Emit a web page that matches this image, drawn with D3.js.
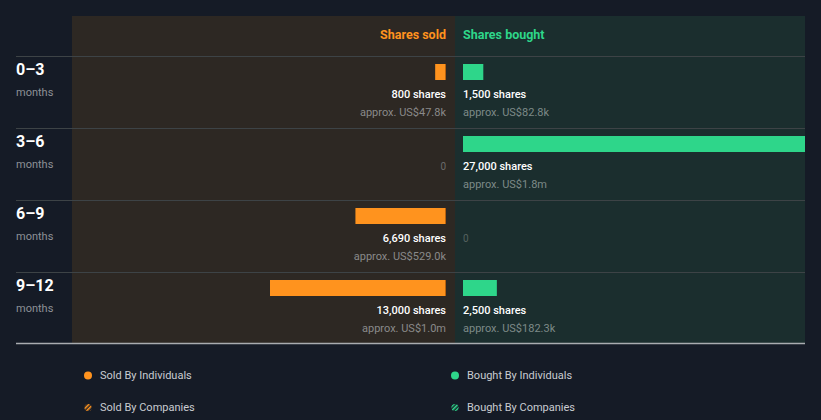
<!DOCTYPE html>
<html><head><meta charset="utf-8">
<script src="https://cdn.jsdelivr.net/npm/d3@7"></script>
<style>
html,body{margin:0;padding:0;background:#151b26;}
svg{display:block;font-family:Roboto,"Open Sans",sans-serif;}
</style></head>
<body><svg id="c" width="821" height="420"></svg>
<script>
const periods = ["0–3", "3–6", "6–9", "9–12"];
const periodUnit = "months";
const soldShares = [800, 0, 6690, 13000];
const soldValue = ["US$47.8k", null, "US$529.0k", "US$1.0m"];
const boughtShares = [1500, 27000, 0, 2500];
const boughtValue = ["US$82.8k", "US$1.8m", null, "US$182.3k"];
const legendItems = [
  {label: "Sold By Individuals", side: "sold", type: "solid"},
  {label: "Bought By Individuals", side: "bought", type: "solid"},
  {label: "Sold By Companies", side: "sold", type: "hatch"},
  {label: "Bought By Companies", side: "bought", type: "hatch"}
];

(function(){
const W = 821, H = 420;
const orange = "#ff931e", green = "#2ed68a";
const svg = d3.select("#c");
const defs = svg.append("defs");

const midX = 455, leftX = 72, rightX = 805, topY = 16, headerH = 40, rowH = 72;
const gap = 9;
const x = d3.scaleLinear().domain([0, 13000]).range([0, 176]);
const y = d3.scaleBand().domain(periods).range([topY + headerH, topY + headerH + rowH * periods.length]);

defs.append("clipPath").attr("id", "clipR").append("rect")
  .attr("x", midX).attr("y", topY).attr("width", rightX - midX).attr("height", H);
defs.append("clipPath").attr("id", "clipL").append("rect")
  .attr("x", leftX).attr("y", topY).attr("width", midX - leftX).attr("height", H);

const panelBottom = y.range()[1];
svg.append("rect").attr("x", leftX).attr("y", topY).attr("width", midX - leftX).attr("height", panelBottom - topY).attr("fill", "#2d2823");
svg.append("rect").attr("x", midX).attr("y", topY).attr("width", rightX - midX).attr("height", panelBottom - topY).attr("fill", "#1b2e2e");

svg.append("text").attr("x", midX - gap).attr("y", topY + 20).attr("text-anchor", "end")
  .attr("fill", orange).attr("font-size", 12.5).attr("font-weight", 700).attr("dominant-baseline", "middle").text("Shares sold");
svg.append("text").attr("x", midX + gap - 1).attr("y", topY + 20).attr("text-anchor", "start")
  .attr("fill", green).attr("font-size", 12.5).attr("font-weight", 700).attr("dominant-baseline", "middle").text("Shares bought");

periods.forEach((p) => {
  svg.append("line").attr("x1", 16).attr("x2", rightX).attr("y1", y(p) + 0.5).attr("y2", y(p) + 0.5)
    .attr("stroke", "#3d4346").attr("stroke-width", 1);
});
svg.append("line").attr("x1", 16).attr("x2", rightX).attr("y1", panelBottom - 0.5).attr("y2", panelBottom - 0.5)
  .attr("stroke", "#a9acb0").attr("stroke-width", 1.5);

const fmt = d3.format(",");
const rows = svg.selectAll("g.row").data(periods).join("g").attr("class", "row");

rows.append("text").attr("x", 16).attr("y", p => y(p) + 15).attr("fill", "#ffffff")
  .attr("font-size", 16).attr("font-weight", 700).attr("dominant-baseline", "middle").text(p => p);
rows.append("text").attr("x", 16).attr("y", p => y(p) + 37).attr("fill", "#8d9197")
  .attr("font-size", 11).attr("dominant-baseline", "middle").text(periodUnit);

rows.each(function(p, i) {
  const g = d3.select(this);
  const ry = y(p);
  const s = soldShares[i];
  if (s > 0) {
    const w = x(s);
    g.append("rect").attr("clip-path", "url(#clipL)").attr("x", midX - gap - w).attr("y", ry + 8).attr("width", w).attr("height", 16).attr("fill", orange);
    g.append("rect").attr("x", midX - gap - 1).attr("y", ry + 8).attr("width", 1).attr("height", 16).attr("fill", "#b8620e");
    g.append("text").attr("x", midX - gap).attr("y", ry + 39).attr("text-anchor", "end").attr("dominant-baseline", "middle")
      .attr("fill", "#ffffff").attr("font-size", 11).attr("font-weight", 500).text(fmt(s) + " shares");
    g.append("text").attr("x", midX - gap).attr("y", ry + 57).attr("text-anchor", "end").attr("dominant-baseline", "middle")
      .attr("fill", "#8a8a8a").attr("font-size", 11).text("approx. " + soldValue[i]);
  } else {
    g.append("text").attr("x", midX - gap).attr("y", ry + 39).attr("text-anchor", "end").attr("dominant-baseline", "middle")
      .attr("fill", "#6b6b6b").attr("font-size", 10).text("0");
  }
  const b = boughtShares[i];
  if (b > 0) {
    const w = x(b);
    g.append("rect").attr("clip-path", "url(#clipR)").attr("x", midX + gap - 1).attr("y", ry + 8).attr("width", w).attr("height", 16).attr("fill", green);
    g.append("text").attr("x", midX + gap - 1).attr("y", ry + 39).attr("text-anchor", "start").attr("dominant-baseline", "middle")
      .attr("fill", "#ffffff").attr("font-size", 11).attr("font-weight", 500).text(fmt(b) + " shares");
    g.append("text").attr("x", midX + gap - 1).attr("y", ry + 57).attr("text-anchor", "start").attr("dominant-baseline", "middle")
      .attr("fill", "#7d8a88").attr("font-size", 11).text("approx. " + boughtValue[i]);
  } else {
    g.append("text").attr("x", midX + gap - 1).attr("y", ry + 39).attr("text-anchor", "start").attr("dominant-baseline", "middle")
      .attr("fill", "#56625f").attr("font-size", 10).text("0");
  }
});

["sold", "bought"].forEach(side => {
  const col = side === "sold" ? orange : green;
  const pat = defs.append("pattern").attr("id", "hatch-" + side).attr("patternUnits", "userSpaceOnUse")
    .attr("width", 3).attr("height", 3).attr("patternTransform", "rotate(45)");
  pat.append("rect").attr("width", 3).attr("height", 3).attr("fill", "#151b26");
  pat.append("rect").attr("width", 1.6).attr("height", 3).attr("fill", col);
});
const legX = d3.scaleOrdinal().domain(["sold", "bought"]).range([88, 455]);
const legY = d3.scaleOrdinal().domain(["solid", "hatch"]).range([375.5, 407.5]);
const lg = svg.selectAll("g.leg").data(legendItems).join("g").attr("class", "leg");
lg.append("circle").attr("cx", d => legX(d.side)).attr("cy", d => legY(d.type)).attr("r", d => d.type === "solid" ? 4 : 3.6)
  .attr("fill", d => d.type === "solid" ? (d.side === "sold" ? orange : green) : "url(#hatch-" + d.side + ")");
lg.append("text").attr("x", d => legX(d.side) + 12).attr("y", d => legY(d.type) + 1).attr("dominant-baseline", "middle")
  .attr("fill", "#c9ccd1").attr("font-size", 11).text(d => d.label);
})();
</script></body></html>
